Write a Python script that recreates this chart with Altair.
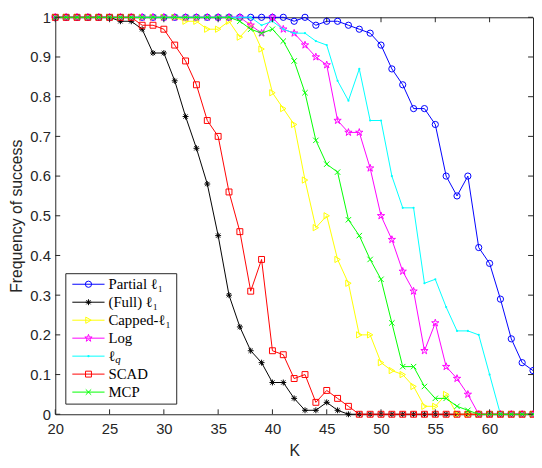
import altair as alt
import pandas as pd

K = list(range(20, 65))

partial_l1 = [1, 1, 1, 1, 1, 1, 1, 1, 1, 1, 1, 1, 1, 1, 1, 1, 1, 1, 1, 1, 1, 1,
              0.99, 1, 0.98, 0.99, 0.99, 0.98, 0.97, 0.96, 0.93, 0.87, 0.83, 0.77,
              0.77, 0.73, 0.60, 0.55, 0.60, 0.42, 0.38, 0.29, 0.19, 0.13, 0.11]
full_l1 = [1, 1, 1, 1, 1, 1, 0.99, 0.99, 0.97, 0.91, 0.91, 0.84, 0.75, 0.67, 0.58,
           0.45, 0.30, 0.22, 0.16, 0.13, 0.08, 0.08, 0.04, 0.01, 0.01, 0.03, 0.01, 0,
           0, 0, 0, 0, 0, 0, 0, 0, 0, 0, 0, 0, 0, 0, 0, 0, 0]
capped_l1 = [1, 1, 1, 1, 1, 1, 1, 1, 1, 1, 1, 1, 0.99, 0.99, 0.97, 0.97, 0.99, 0.95,
             0.98, 0.92, 0.81, 0.77, 0.73, 0.59, 0.47, 0.50, 0.39, 0.33, 0.20, 0.20,
             0.13, 0.11, 0.10, 0.07, 0.02, 0.02, 0.05, 0, 0, 0, 0, 0, 0, 0, 0]
log_pen = [1, 1, 1, 1, 1, 1, 1, 1, 1, 1, 1, 1, 1, 1, 1, 1, 1, 1, 0.98, 0.96, 1, 0.97,
           0.96, 0.93, 0.90, 0.88, 0.74, 0.71, 0.71, 0.62, 0.50, 0.44, 0.36, 0.31,
           0.16, 0.23, 0.12, 0.09, 0.05, 0, 0, 0, 0, 0, 0]
lq_pen = [1, 1, 1, 1, 1, 1, 1, 1, 1, 1, 1, 1, 1, 1, 1, 1, 1, 1, 1, 0.98, 0.99, 0.97,
          0.96, 0.96, 0.94, 0.93, 0.84, 0.79, 0.87, 0.74, 0.74, 0.60, 0.52, 0.52,
          0.33, 0.34, 0.27, 0.21, 0.21, 0.20, 0.10, 0, 0, 0, 0]
scad = [1, 1, 1, 1, 1, 1, 1, 1, 0.98, 0.98, 0.97, 0.93, 0.89, 0.83, 0.74, 0.70, 0.56,
        0.46, 0.31, 0.39, 0.16, 0.15, 0.09, 0.10, 0.03, 0.06, 0.04, 0.02, 0, 0, 0,
        0, 0, 0, 0, 0, 0, 0, 0, 0, 0, 0, 0, 0, 0]
mcp = [1, 1, 1, 1, 1, 1, 1, 1, 1, 1, 1, 1, 1, 1, 1, 1, 1, 0.99, 0.97, 0.96, 0.97, 0.94,
       0.89, 0.81, 0.69, 0.63, 0.61, 0.49, 0.45, 0.39, 0.34, 0.23, 0.12, 0.12, 0.07,
       0.04, 0.04, 0.02, 0.01, 0, 0, 0, 0, 0, 0]

x_ticks = [20, 25, 30, 35, 40, 45, 50, 55, 60]
y_ticks = [0, 0.1, 0.2, 0.3, 0.4, 0.5, 0.6, 0.7, 0.8, 0.9, 1]

labels = ["Partial ℓ₁", "(Full) ℓ₁", "Capped-ℓ₁", "Log", "ℓ", "SCAD", "MCP"]
colors = ["#0000FF", "#000000", "#FFFF00", "#FF00FF", "#00FFFF", "#FF0000", "#00FF00"]

STAR5 = ("M0,-1L0.225,-0.309L0.951,-0.309L0.363,0.118L0.588,0.809L0,0.382"
         "L-0.588,0.809L-0.363,0.118L-0.951,-0.309L-0.225,-0.309Z")
ASTER = "M-1,0L1,0M0,-1L0,1M-0.72,-0.72L0.72,0.72M-0.72,0.72L0.72,-0.72"
XMARK = "M-1,-1L1,1M-1,1L1,-1"

# (shape, size, filled)
markers = [("circle", 40, False), (ASTER, 36, False), ("triangle-right", 40, False),
           (STAR5, 60, False), ("circle", 5, True), ("square", 36, False),
           (XMARK, 30, False)]
series_values = [partial_l1, full_l1, capped_l1, log_pen, lq_pen, scad, mcp]

W, H = 485, 403
TOP = 6
AX = "#262626"

xscale = alt.Scale(domain=[20, 64], nice=False, zero=False)
yscale = alt.Scale(domain=[0, 1], nice=False)
xaxis = alt.Axis(values=x_ticks, title="K", labelPadding=8, labelFlush=False,
                 titleX=W / 2, titleY=37, titleBaseline="middle", titleAlign="center")
yaxis = alt.Axis(values=y_ticks, title="Frequency of success", format=".1~f",
                 labelPadding=5, labelFlush=False, titleX=-39, titleY=H / 2,
                 titleAngle=-90, titleBaseline="middle", titleAlign="center")

layers = []
for vals, color, (shape, size, filled) in zip(series_values, colors, markers):
    df = pd.DataFrame({"K": K, "v": vals})
    base = alt.Chart(df).encode(
        x=alt.X("K:Q", scale=xscale, axis=xaxis),
        y=alt.Y("v:Q", scale=yscale, axis=yaxis),
    )
    layers.append(base.mark_line(color=color, strokeWidth=1))
    if filled:
        layers.append(base.mark_point(shape=shape, size=size, filled=True,
                                      color=color, opacity=1))
    else:
        layers.append(base.mark_point(shape=shape, size=size, filled=False,
                                      color=color, strokeWidth=1, opacity=1))

# inward ticks (MATLAB style)
xt = alt.Chart(pd.DataFrame({"K": x_ticks}))
yt = alt.Chart(pd.DataFrame({"v": y_ticks}))
xe = alt.X("K:Q", scale=xscale, axis=xaxis)
ye = alt.Y("v:Q", scale=yscale, axis=yaxis)
layers.append(xt.mark_rule(color=AX, strokeWidth=1).encode(x=xe, y=alt.value(H), y2=alt.value(H - 5)))
layers.append(xt.mark_rule(color=AX, strokeWidth=1).encode(x=xe, y=alt.value(0), y2=alt.value(5)))
layers.append(yt.mark_rule(color=AX, strokeWidth=1).encode(y=ye, x=alt.value(0), x2=alt.value(5)))
layers.append(yt.mark_rule(color=AX, strokeWidth=1).encode(y=ye, x=alt.value(W), x2=alt.value(W - 5)))

# legend (page y minus plot top offset)
oy = 8 + TOP
one = alt.Chart(pd.DataFrame({"a": [0]}))
layers.append(one.mark_rect(fill="white", stroke=AX, strokeWidth=1).encode(
    x=alt.value(10.7), x2=alt.value(123.3), y=alt.value(274.3 - oy), y2=alt.value(406.7 - oy)))
for i, (lab, color, (shape, size, filled)) in enumerate(zip(labels, colors, markers)):
    ly = 285 - oy + 18.25 * i
    layers.append(one.mark_rule(color=color, strokeWidth=1).encode(
        x=alt.value(17.3), x2=alt.value(50), y=alt.value(ly)))
    if filled:
        layers.append(one.mark_point(shape=shape, size=size, filled=True, color=color,
                                     opacity=1).encode(x=alt.value(33.7), y=alt.value(ly)))
    else:
        layers.append(one.mark_point(shape=shape, size=size, filled=False, color=color,
                                     strokeWidth=1, opacity=1).encode(
            x=alt.value(33.7), y=alt.value(ly)))
    layers.append(one.mark_text(align="left", baseline="middle", font="Liberation Serif",
                                fontSize=15, color="#000000").encode(
        x=alt.value(54), y=alt.value(ly), text=alt.value(lab)))
    if lab == "ℓ":
        layers.append(one.mark_text(align="left", baseline="middle", font="Liberation Serif",
                                    fontSize=11, fontStyle="italic", color="#000000").encode(
            x=alt.value(61), y=alt.value(ly + 4), text=alt.value("q")))

chart = alt.layer(*layers).properties(
    width=W, height=H,
    autosize=alt.AutoSizeParams(type="none"),
    padding={"left": 48, "top": TOP, "right": 1, "bottom": 43},
).configure(background="white").configure_axis(
    labelFont="Liberation Sans", labelFontSize=15, labelColor=AX,
    titleFont="Liberation Sans", titleFontSize=16, titleColor=AX, titleFontWeight="normal",
    grid=False, ticks=False, tickSize=0, domain=False,
).configure_view(stroke=AX, strokeWidth=1)

chart.save("out.html", embed_options={"renderer": "svg", "actions": False})
